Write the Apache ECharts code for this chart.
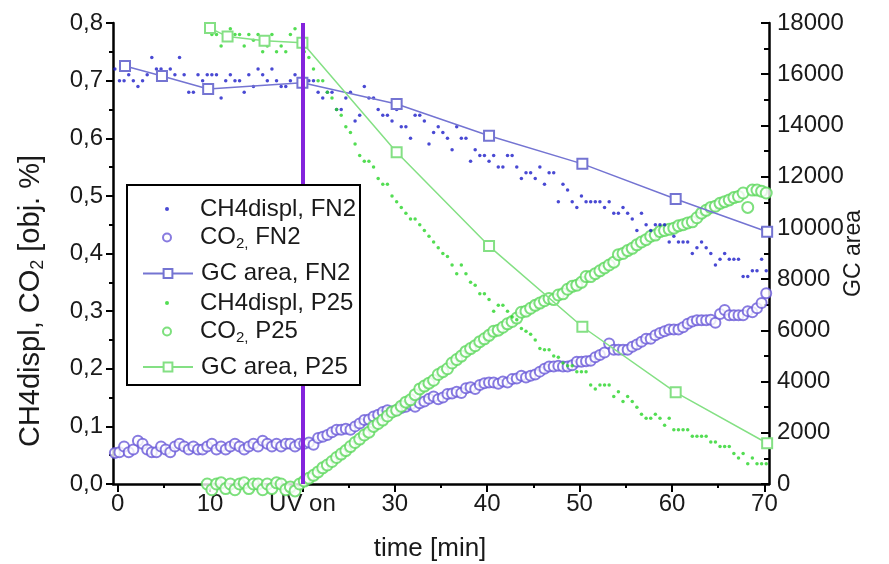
<!DOCTYPE html>
<html>
<head>
<meta charset="utf-8">
<script src="https://cdn.jsdelivr.net/npm/echarts@6/dist/echarts.min.js"></script>
<style>
html,body{margin:0;padding:0;background:#fff;}
#chart{width:889px;height:564px;}
</style>
</head>
<body>
<div id="chart"></div>
<script>
// ---------- DATA (time [min], value) ----------
const xTickValues = [0, 10, 20, 30, 40, 50, 60, 70];
const xMinorValues = [5, 15, 25, 35, 45, 55, 65];
const uvOnTime = 20;
const leftTicks = [0, 0.1, 0.2, 0.3, 0.4, 0.5, 0.6, 0.7, 0.8];
const rightTicks = [0, 2000, 4000, 6000, 8000, 10000, 12000, 14000, 16000, 18000];

// CH4displ, FN2 (obj. %)
const ch4FN2 = [
[-0.3,0.72],[0.2,0.70],[0.7,0.70],[1.2,0.71],[1.7,0.70],[2.2,0.69],[2.7,0.70],[3.2,0.71],[3.7,0.74],[4.2,0.72],
[4.7,0.72],[5.2,0.71],[5.7,0.72],[6.2,0.71],[6.7,0.74],[7.2,0.71],[7.7,0.68],[8.2,0.68],[8.7,0.71],[9.2,0.70],
[9.7,0.71],[10.2,0.71],[10.7,0.71],[11.2,0.67],[11.7,0.70],[12.2,0.71],[12.7,0.70],[13.2,0.70],[13.7,0.68],[14.2,0.71],
[14.7,0.69],[15.2,0.72],[15.7,0.71],[16.2,0.70],[16.7,0.72],[17.2,0.70],[17.7,0.69],[18.2,0.69],[18.7,0.70],[19.2,0.71],
[19.7,0.70],[20.2,0.69],[20.7,0.70],[21.2,0.70],[21.7,0.68],[22.2,0.67],[22.7,0.68],[23.2,0.68],[23.7,0.65],[24.2,0.65],
[24.7,0.67],[25.2,0.68],[25.7,0.63],[26.2,0.64],[26.7,0.69],[27.2,0.67],[27.7,0.67],[28.2,0.65],[28.7,0.64],[29.2,0.64],
[29.7,0.63],[30.2,0.65],[30.7,0.62],[31.2,0.62],[31.7,0.60],[32.2,0.64],[32.7,0.64],[33.2,0.63],[33.7,0.59],[34.2,0.61],
[34.7,0.62],[35.2,0.61],[35.7,0.60],[36.2,0.58],[36.7,0.62],[37.2,0.60],[37.7,0.60],[38.2,0.56],[38.7,0.58],[39.2,0.57],
[39.7,0.57],[40.2,0.56],[40.7,0.57],[41.2,0.55],[41.7,0.55],[42.2,0.57],[42.7,0.57],[43.2,0.55],[43.7,0.53],[44.2,0.54],
[44.7,0.54],[45.2,0.53],[45.7,0.55],[46.2,0.52],[46.7,0.54],[47.2,0.54],[47.7,0.49],[48.2,0.52],[48.7,0.51],[49.2,0.49],
[49.7,0.48],[50.2,0.50],[50.7,0.49],[51.2,0.49],[51.7,0.49],[52.2,0.49],[52.7,0.48],[53.2,0.49],[53.7,0.47],[54.2,0.47],
[54.7,0.48],[55.2,0.47],[55.7,0.46],[56.2,0.44],[56.7,0.47],[57.2,0.45],[57.7,0.44],[58.2,0.45],[58.7,0.45],[59.2,0.45],
[59.7,0.42],[60.2,0.43],[60.7,0.42],[61.2,0.42],[61.7,0.42],[62.2,0.40],[62.7,0.41],[63.2,0.42],[63.7,0.41],[64.2,0.40],
[64.7,0.38],[65.2,0.39],[65.7,0.40],[66.2,0.39],[66.7,0.39],[67.2,0.39],[67.7,0.36],[68.2,0.36],[68.7,0.37],[69.2,0.37],
[69.7,0.39],[70.2,0.37]
];

// CO2, FN2 (obj. %)
const co2FN2 = [
[-0.3,0.054],[0.2,0.055],[0.7,0.065],[1.2,0.055],[1.7,0.060],[2.2,0.075],[2.7,0.070],[3.2,0.060],[3.7,0.055],[4.2,0.055],
[4.7,0.065],[5.2,0.060],[5.7,0.055],[6.2,0.065],[6.7,0.070],[7.2,0.065],[7.7,0.060],[8.2,0.065],[8.7,0.060],[9.2,0.060],
[9.7,0.065],[10.2,0.070],[10.7,0.060],[11.2,0.065],[11.7,0.060],[12.2,0.065],[12.7,0.070],[13.2,0.065],[13.7,0.060],[14.2,0.065],
[14.7,0.070],[15.2,0.065],[15.7,0.075],[16.2,0.070],[16.7,0.065],[17.2,0.070],[17.7,0.065],[18.2,0.070],[18.7,0.070],[19.2,0.065],
[19.7,0.070],[20.2,0.070],[20.7,0.072],[21.2,0.068],[21.7,0.080],[22.2,0.082],[22.7,0.085],[23.2,0.090],[23.7,0.094],[24.2,0.094],
[24.7,0.096],[25.2,0.094],[25.7,0.100],[26.2,0.105],[26.7,0.111],[27.2,0.112],[27.7,0.117],[28.2,0.120],[28.7,0.125],[29.2,0.128],
[29.7,0.126],[30.2,0.128],[30.7,0.132],[31.2,0.134],[31.7,0.138],[32.2,0.134],[32.7,0.140],[33.2,0.143],[33.7,0.148],[34.2,0.152],
[34.7,0.147],[35.2,0.150],[35.7,0.156],[36.2,0.157],[36.7,0.160],[37.2,0.158],[37.7,0.166],[38.2,0.168],[38.7,0.165],[39.2,0.172],
[39.7,0.175],[40.2,0.176],[40.7,0.176],[41.2,0.174],[41.7,0.178],[42.2,0.176],[42.7,0.182],[43.2,0.183],[43.7,0.188],[44.2,0.185],
[44.7,0.188],[45.2,0.190],[45.7,0.195],[46.2,0.200],[46.7,0.204],[47.2,0.204],[47.7,0.205],[48.2,0.204],[48.7,0.204],[49.2,0.206],
[49.7,0.212],[50.2,0.212],[50.7,0.213],[51.2,0.214],[51.7,0.220],[52.2,0.224],[52.7,0.228],[53.2,0.244],[53.7,0.233],[54.2,0.233],
[54.7,0.233],[55.2,0.233],[55.7,0.238],[56.2,0.242],[56.7,0.247],[57.2,0.252],[57.7,0.252],[58.2,0.258],[58.7,0.262],[59.2,0.265],
[59.7,0.268],[60.2,0.268],[60.7,0.268],[61.2,0.272],[61.7,0.278],[62.2,0.282],[62.7,0.284],[63.2,0.284],[63.7,0.284],[64.2,0.285],
[64.7,0.280],[65.2,0.295],[65.7,0.302],[66.2,0.293],[66.7,0.293],[67.2,0.293],[67.7,0.293],[68.2,0.300],[68.7,0.298],[69.2,0.305],
[69.7,0.314],[70.2,0.331]
];

// GC area, FN2
const gcFN2 = [
[0.8,16320],[4.8,15930],[9.8,15420],[20.0,15670],[30.2,14840],[40.2,13600],[50.3,12500],[60.4,11130],[70.3,9850]
];

// CH4displ, P25 (obj. %)
const ch4P25 = [
[10.2,0.78],[10.7,0.78],[11.2,0.76],[11.7,0.78],[12.2,0.79],[12.7,0.78],[13.2,0.78],[13.7,0.76],[14.2,0.78],[14.7,0.77],
[15.2,0.78],[15.7,0.75],[16.2,0.76],[16.7,0.78],[17.2,0.75],[17.7,0.76],[18.2,0.75],[18.7,0.78],[19.2,0.79],[19.7,0.76],
[20.2,0.75],[20.7,0.74],[21.2,0.72],[21.7,0.70],[22.2,0.70],[22.7,0.68],[23.2,0.67],[23.7,0.65],[24.2,0.64],[24.7,0.62],
[25.2,0.61],[25.7,0.59],[26.2,0.57],[26.7,0.56],[27.2,0.56],[27.7,0.55],[28.2,0.53],[28.7,0.52],[29.2,0.52],[29.7,0.50],
[30.2,0.49],[30.7,0.48],[31.2,0.47],[31.7,0.46],[32.2,0.46],[32.7,0.45],[33.2,0.44],[33.7,0.43],[34.2,0.42],[34.7,0.41],
[35.2,0.40],[35.7,0.395],[36.2,0.38],[36.7,0.365],[37.2,0.38],[37.7,0.365],[38.2,0.35],[38.7,0.345],[39.2,0.33],[39.7,0.33],
[40.2,0.32],[40.7,0.30],[41.2,0.31],[41.7,0.31],[42.2,0.30],[42.7,0.29],[43.2,0.285],[43.7,0.27],[44.2,0.265],[44.7,0.26],
[45.2,0.25],[45.7,0.235],[46.2,0.233],[46.7,0.233],[47.2,0.222],[47.7,0.22],[48.2,0.21],[48.7,0.205],[49.2,0.205],[49.7,0.195],
[50.2,0.195],[50.7,0.195],[51.2,0.172],[51.7,0.165],[52.2,0.172],[52.7,0.172],[53.2,0.172],[53.7,0.152],[54.2,0.16],[54.7,0.143],
[55.2,0.152],[55.7,0.143],[56.2,0.133],[56.7,0.121],[57.2,0.114],[57.7,0.114],[58.2,0.121],[58.7,0.114],[59.2,0.102],[59.7,0.114],
[60.2,0.094],[60.7,0.094],[61.2,0.094],[61.7,0.094],[62.2,0.083],[62.7,0.083],[63.2,0.083],[63.7,0.083],[64.2,0.073],[64.7,0.073],
[65.2,0.065],[65.7,0.065],[66.2,0.065],[66.7,0.053],[67.2,0.045],[67.7,0.053],[68.2,0.035],[68.7,0.045],[69.2,0.035],[69.7,0.035],
[70.2,0.035]
];

// CO2, P25 (obj. %)
const co2P25 = [
[9.7,0.000],[10.2,-0.010],[10.7,0.000],[11.2,0.002],[11.7,-0.008],[12.2,0.000],[12.7,-0.010],[13.2,0.000],[13.7,0.002],[14.2,-0.008],
[14.7,0.000],[15.2,0.000],[15.7,-0.010],[16.2,0.000],[16.7,-0.008],[17.2,0.002],[17.7,0.000],[18.2,-0.010],[18.7,-0.005],[19.2,-0.012],
[19.7,0.000],[20.2,0.005],[20.7,0.010],[21.2,0.015],[21.7,0.021],[22.2,0.028],[22.7,0.033],[23.2,0.039],[23.7,0.046],[24.2,0.052],
[24.7,0.058],[25.2,0.065],[25.7,0.072],[26.2,0.078],[26.7,0.085],[27.2,0.090],[27.7,0.100],[28.2,0.105],[28.7,0.111],[29.2,0.118],
[29.7,0.125],[30.2,0.128],[30.7,0.135],[31.2,0.142],[31.7,0.146],[32.2,0.155],[32.7,0.165],[33.2,0.170],[33.7,0.175],[34.2,0.180],
[34.7,0.190],[35.2,0.195],[35.7,0.200],[36.2,0.210],[36.7,0.216],[37.2,0.222],[37.7,0.230],[38.2,0.235],[38.7,0.240],[39.2,0.247],
[39.7,0.252],[40.2,0.258],[40.7,0.265],[41.2,0.267],[41.7,0.272],[42.2,0.278],[42.7,0.282],[43.2,0.288],[43.7,0.298],[44.2,0.300],
[44.7,0.305],[45.2,0.310],[45.7,0.314],[46.2,0.318],[46.7,0.322],[47.2,0.320],[47.7,0.328],[48.2,0.330],[48.7,0.338],[49.2,0.343],
[49.7,0.345],[50.2,0.350],[50.7,0.360],[51.2,0.360],[51.7,0.365],[52.2,0.370],[52.7,0.375],[53.2,0.380],[53.7,0.385],[54.2,0.398],
[54.7,0.400],[55.2,0.405],[55.7,0.409],[56.2,0.415],[56.7,0.420],[57.2,0.424],[57.7,0.430],[58.2,0.432],[58.7,0.438],[59.2,0.440],
[59.7,0.442],[60.2,0.444],[60.7,0.448],[61.2,0.450],[61.7,0.453],[62.2,0.455],[62.7,0.462],[63.2,0.470],[63.7,0.475],[64.2,0.480],
[64.7,0.482],[65.2,0.487],[65.7,0.490],[66.2,0.493],[66.7,0.497],[67.2,0.499],[67.7,0.505],[68.2,0.480],[68.7,0.510],[69.2,0.510],
[69.7,0.508],[70.2,0.505]
];

// GC area, P25
const gcP25 = [
[10.0,17800],[11.9,17470],[15.9,17310],[20.0,17230],[30.2,12950],[40.2,9290],[50.3,6140],[60.4,3580],[70.3,1590]
];

// ---------- CHART ----------
const FONT = 'Liberation Sans, Arial, Helvetica, sans-serif';
const TXT = '#1a1a1a';
const C = {
  ch4FN2: '#1c1cc8', co2FN2: '#6a5ad8', gcFN2: '#7474d2',
  ch4P25: '#28d428', co2P25: '#5cd85c', gcP25: '#84e084', uv: '#8424dc'
};

const chart = echarts.init(document.getElementById('chart'), null, {renderer: 'canvas'});

const subRich = {
  n: {fontSize: 24, fontFamily: FONT, color: TXT},
  s: {fontSize: 15, fontFamily: FONT, color: TXT, padding: [12, 0, 0, 0]}
};
function legendFmt(name) {
  if (name.indexOf('CO2') === 0) {
    return '{n|CO}{s|2,}{n|' + name.slice(4) + '}';
  }
  return '{n|' + name + '}';
}
// legend rows: icon box 50px wide starting at x=142, text at x=200
const legendRows = [
  {name: 'CH4displ, FN2', center: 209, h: 4, left: 165},
  {name: 'CO2, FN2', center: 237.5, h: 8, left: 162},
  {name: 'GC area, FN2', center: 273.5, h: 11, left: 142},
  {name: 'CH4displ, P25', center: 303, h: 4, left: 165},
  {name: 'CO2, P25', center: 331.5, h: 8, left: 162},
  {name: 'GC area, P25', center: 367, h: 11, left: 142}
];

const option = {
  backgroundColor: '#fff',
  animation: false,
  textStyle: {fontFamily: FONT},
  grid: {left: 113, right: 120, top: 23, bottom: 80, containLabel: false, outerBoundsMode: 'none'},
  xAxis: [{
    type: 'value', min: -0.5, max: 70.5, position: 'bottom',
    name: 'time [min]', nameLocation: 'middle', nameGap: 52, nameMoveOverlap: false,
    nameTextStyle: {fontSize: 26, color: TXT, fontFamily: FONT, padding: [0, 22, 0, 0]},
    axisLine: {show: true, onZero: false, lineStyle: {color: '#000', width: 2.5}},
    axisTick: {show: true, length: 8, lineStyle: {color: '#000', width: 2}, customValues: xTickValues},
    axisLabel: {fontSize: 24, color: TXT, fontFamily: FONT, margin: 8, customValues: xTickValues,
      formatter: v => (v === uvOnTime ? 'UV on' : String(v))},
    splitLine: {show: false}
  }, {
    type: 'value', min: -0.5, max: 70.5, position: 'bottom',
    axisLine: {show: false},
    axisTick: {show: true, length: 4, lineStyle: {color: '#000', width: 2}, customValues: xMinorValues},
    axisLabel: {show: false},
    splitLine: {show: false}
  }],
  yAxis: [{
    type: 'value', min: leftTicks[0], max: leftTicks[leftTicks.length - 1], interval: 0.1, position: 'left',
    axisLine: {show: true, onZero: false, lineStyle: {color: '#000', width: 2.5}},
    axisTick: {show: true, length: 7, lineStyle: {color: '#000', width: 2}},
    minorTick: {show: true, splitNumber: 2, length: 4, lineStyle: {color: '#000', width: 2}},
    axisLabel: {fontSize: 24, color: TXT, fontFamily: FONT, margin: 10,
      formatter: v => v.toFixed(1).replace('.', ',')},
    splitLine: {show: false}
  }, {
    type: 'value', min: rightTicks[0], max: rightTicks[rightTicks.length - 1], interval: 2000, position: 'right',
    name: 'GC area', nameLocation: 'middle', nameGap: 73, nameRotate: 90, nameMoveOverlap: false,
    nameTextStyle: {fontSize: 23, color: TXT, fontFamily: FONT},
    axisLine: {show: true, onZero: false, lineStyle: {color: '#000', width: 2.5}},
    axisTick: {show: true, inside: true, length: 8, lineStyle: {color: '#000', width: 2}},
    minorTick: {show: true, splitNumber: 2, length: 5, lineStyle: {color: '#000', width: 2}},
    axisLabel: {fontSize: 24, color: TXT, fontFamily: FONT, margin: 8, formatter: v => String(v)},
    splitLine: {show: false}
  }],
  legend: legendRows.map(r => ({
    data: [r.name], orient: 'vertical', left: r.left, top: r.center - 12,
    itemWidth: 50, itemHeight: r.h, padding: 0, itemGap: 0,
    selectedMode: false, z: 200,
    formatter: legendFmt,
    textStyle: {fontSize: 24, color: TXT, fontFamily: FONT, padding: [0, 0, 0, 3], rich: subRich}
  })),
  graphic: [{
    type: 'rect', z: 100,
    shape: {x: 127, y: 185, width: 233, height: 200},
    style: {fill: '#fff', stroke: '#000', lineWidth: 2}
  }, {
    type: 'text', z: 100, x: 31, y: 301, rotation: Math.PI / 2,
    style: {
      text: '{n|CH4displ, CO}{s|2}{n| [obj. %]}',
      rich: {
        n: {fontSize: 29, fontFamily: FONT, fill: TXT},
        s: {fontSize: 18, fontFamily: FONT, fill: TXT, padding: [15, 0, 0, 0]}
      },
      align: 'center', verticalAlign: 'middle'
    }
  }],
  series: [{
    name: 'CH4displ, FN2', type: 'scatter', xAxisIndex: 0, yAxisIndex: 0,
    data: ch4FN2, symbol: 'circle', symbolSize: 3.5,
    itemStyle: {color: C.ch4FN2}, z: 3,
    markLine: {
      silent: true, symbol: 'none', label: {show: false},
      lineStyle: {color: C.uv, width: 4, type: 'solid'},
      data: [{xAxis: uvOnTime}], z: 10
    }
  }, {
    name: 'CO2, FN2', type: 'scatter', xAxisIndex: 0, yAxisIndex: 0,
    data: co2FN2, symbol: 'emptyCircle', symbolSize: 10,
    itemStyle: {color: C.co2FN2, borderWidth: 1.1}, z: 2
  }, {
    name: 'GC area, FN2', type: 'line', xAxisIndex: 0, yAxisIndex: 1,
    data: gcFN2, symbol: 'emptyRect', symbolSize: 10,
    lineStyle: {color: C.gcFN2, width: 1.5},
    itemStyle: {color: C.gcFN2, borderWidth: 1.3}, z: 4
  }, {
    name: 'CH4displ, P25', type: 'scatter', xAxisIndex: 0, yAxisIndex: 0,
    data: ch4P25, symbol: 'circle', symbolSize: 3.5,
    itemStyle: {color: C.ch4P25}, z: 3
  }, {
    name: 'CO2, P25', type: 'scatter', xAxisIndex: 0, yAxisIndex: 0, clip: false,
    data: co2P25, symbol: 'emptyCircle', symbolSize: 11,
    itemStyle: {color: C.co2P25, borderWidth: 1.1}, z: 2
  }, {
    name: 'GC area, P25', type: 'line', xAxisIndex: 0, yAxisIndex: 1,
    data: gcP25, symbol: 'emptyRect', symbolSize: 10,
    lineStyle: {color: C.gcP25, width: 1.5},
    itemStyle: {color: C.gcP25, borderWidth: 1.3}, z: 4
  }]
};
chart.setOption(option);
</script>
</body>
</html>
